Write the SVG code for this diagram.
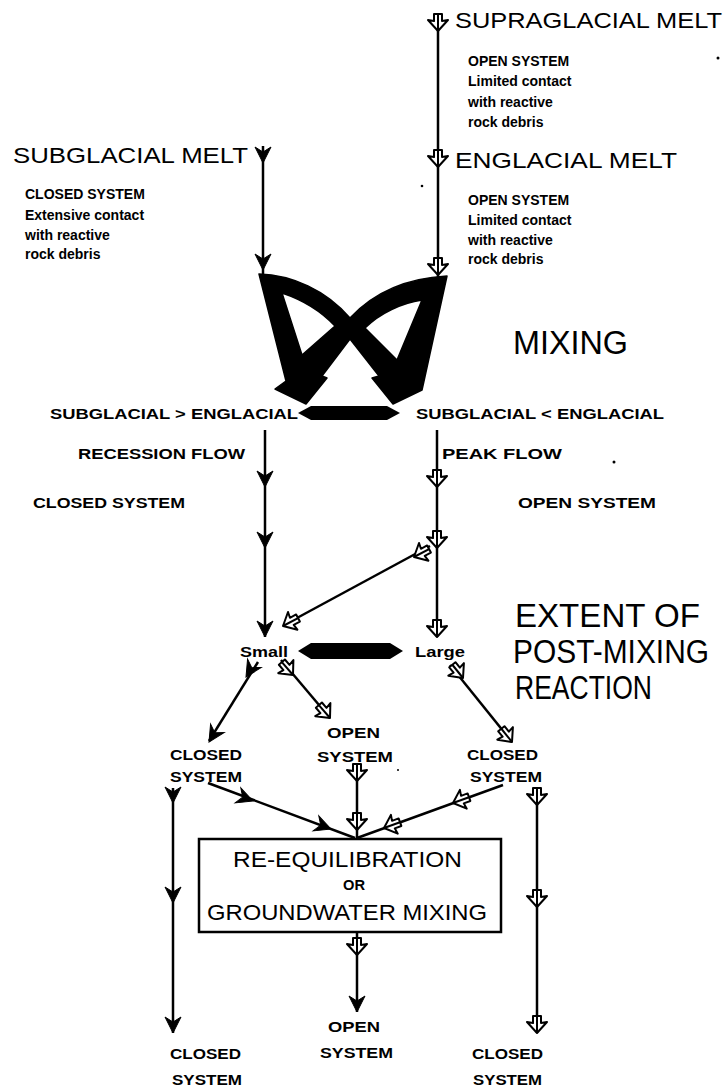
<svg xmlns="http://www.w3.org/2000/svg" xmlns:xlink="http://www.w3.org/1999/xlink" width="726" height="1090" viewBox="0 0 726 1090">
<style>
.big{font-family:"Liberation Sans",Arial,sans-serif;font-size:22px;fill:#000}
.head{font-family:"Liberation Sans",Arial,sans-serif;font-size:33px;fill:#000}
.sm{font-family:"Liberation Sans",Arial,sans-serif;font-size:14px;font-weight:bold;fill:#000}
.ln{stroke:#000;stroke-width:2.5;fill:none}
</style>
<defs>
<path id="fa" d="M0,0 L-8,-16 L0,-11 L8,-16 Z" fill="#000" stroke="#000" stroke-width="1"/>
<g id="oa">
<path d="M0,0 L-10,-11 L-4,-10 L-4,-17 L4,-17 L4,-10 L10,-11 Z" fill="#fff" stroke="#000" stroke-width="2" stroke-linejoin="round"/>
<line x1="0" y1="-17" x2="0" y2="0" stroke="#000" stroke-width="2"/>
</g>
</defs>
<rect width="726" height="1090" fill="#fff"/>

<g id="connectors">
<line class="ln" x1="438" y1="14" x2="438" y2="280"/>
<line class="ln" x1="263" y1="146" x2="263" y2="276"/>
<line class="ln" x1="265" y1="430" x2="265" y2="637"/>
<line class="ln" x1="437" y1="430" x2="437" y2="637"/>
<line class="ln" x1="430" y1="546" x2="284" y2="625"/>
<line class="ln" x1="258" y1="662" x2="209" y2="741"/>
<line class="ln" x1="281" y1="660" x2="330" y2="718"/>
<line class="ln" x1="450" y1="665" x2="512" y2="742"/>
<line class="ln" x1="208" y1="783" x2="355" y2="838"/>
<line class="ln" x1="503" y1="785" x2="357" y2="838"/>
<line class="ln" x1="357" y1="765" x2="357" y2="838"/>
<line class="ln" x1="173" y1="788" x2="173" y2="1033"/>
<line class="ln" x1="537" y1="788" x2="537" y2="1033"/>
<line class="ln" x1="357" y1="932" x2="357" y2="1012"/>
<use xlink:href="#oa" href="#oa" transform="translate(438,31)"/>
<use xlink:href="#oa" href="#oa" transform="translate(438,167)"/>
<use xlink:href="#oa" href="#oa" transform="translate(438,275)"/>
<use xlink:href="#fa" href="#fa" transform="translate(263,163)"/>
<use xlink:href="#fa" href="#fa" transform="translate(263,270)"/>
<use xlink:href="#fa" href="#fa" transform="translate(265,487)"/>
<use xlink:href="#fa" href="#fa" transform="translate(265,548)"/>
<use xlink:href="#fa" href="#fa" transform="translate(265,637)"/>
<use xlink:href="#oa" href="#oa" transform="translate(437,487)"/>
<use xlink:href="#oa" href="#oa" transform="translate(437,548)"/>
<use xlink:href="#oa" href="#oa" transform="translate(437,637)"/>
<use xlink:href="#oa" href="#oa" transform="translate(414,557) rotate(62)"/>
<use xlink:href="#oa" href="#oa" transform="translate(283,626) rotate(62)"/>
<use xlink:href="#fa" href="#fa" transform="translate(246,677) rotate(31.6)"/>
<use xlink:href="#fa" href="#fa" transform="translate(209,742) rotate(31.6)"/>
<use xlink:href="#oa" href="#oa" transform="translate(293,675) rotate(-40.8)"/>
<use xlink:href="#oa" href="#oa" transform="translate(330,718) rotate(-40.8)"/>
<use xlink:href="#oa" href="#oa" transform="translate(463,678) rotate(-38.8)"/>
<use xlink:href="#oa" href="#oa" transform="translate(512,742) rotate(-38.8)"/>
<use xlink:href="#fa" href="#fa" transform="translate(253,801) rotate(-69.5)"/>
<use xlink:href="#fa" href="#fa" transform="translate(331,829) rotate(-69.5)"/>
<use xlink:href="#oa" href="#oa" transform="translate(453,803) rotate(70)"/>
<use xlink:href="#oa" href="#oa" transform="translate(384,828) rotate(70)"/>
<use xlink:href="#oa" href="#oa" transform="translate(357,781)"/>
<use xlink:href="#oa" href="#oa" transform="translate(357,830)"/>
<use xlink:href="#fa" href="#fa" transform="translate(173,803)"/>
<use xlink:href="#fa" href="#fa" transform="translate(173,903)"/>
<use xlink:href="#fa" href="#fa" transform="translate(173,1033)"/>
<use xlink:href="#oa" href="#oa" transform="translate(537,805)"/>
<use xlink:href="#oa" href="#oa" transform="translate(537,907)"/>
<use xlink:href="#oa" href="#oa" transform="translate(537,1033)"/>
<use xlink:href="#oa" href="#oa" transform="translate(357,955)"/>
<use xlink:href="#fa" href="#fa" transform="translate(357,1012)"/>
<polygon points="298,413 311,406 387,406 400,413 387,420 311,420" fill="#000"/>
<polygon points="298,651 311,643 390,643 403,651 390,659 311,659" fill="#000"/>
</g>

<g id="mixing-shape">
<path fill="#000" fill-rule="evenodd" stroke="#000" stroke-width="1.5" stroke-linejoin="round" d="M259,274 C292,275 326,290 350,318 C375,291 410,278 447,276 L424,381 L422,390 L393,404 L372,378 L379,376 L350,339 L322,376 L327,378 L306,404 L275,389 L286,381 Z M282,293 C300,299 320,310 335,326 L302,355 Z M422,300 C402,303 380,313 365,328 L397,360 Z"/>
</g>

<g id="supraglacial">
<text class="big" x="455" y="28" textLength="267" lengthAdjust="spacingAndGlyphs">SUPRAGLACIAL MELT</text>
<text class="sm" x="468" y="66">OPEN SYSTEM</text>
<text class="sm" x="468" y="86">Limited contact</text>
<text class="sm" x="468" y="107">with reactive</text>
<text class="sm" x="468" y="127">rock debris</text>
</g>
<g id="englacial">
<text class="big" x="455" y="168" textLength="222" lengthAdjust="spacingAndGlyphs">ENGLACIAL  MELT</text>
<text class="sm" x="468" y="205">OPEN SYSTEM</text>
<text class="sm" x="468" y="225">Limited contact</text>
<text class="sm" x="468" y="245">with reactive</text>
<text class="sm" x="468" y="264">rock debris</text>
</g>
<g id="subglacial">
<text class="big" x="13" y="163" textLength="235" lengthAdjust="spacingAndGlyphs">SUBGLACIAL  MELT</text>
<text class="sm" x="25" y="199">CLOSED SYSTEM</text>
<text class="sm" x="25" y="220">Extensive contact</text>
<text class="sm" x="25" y="240">with reactive</text>
<text class="sm" x="25" y="259">rock debris</text>
</g>
<g id="mixing-label">
<text class="head" x="513" y="354" textLength="115" lengthAdjust="spacingAndGlyphs">MIXING</text>
</g>
<g id="sub-gt-eng">
<text class="sm" x="50" y="419" textLength="248" lengthAdjust="spacingAndGlyphs">SUBGLACIAL &gt; ENGLACIAL</text>
<text class="sm" x="78" y="459" textLength="167" lengthAdjust="spacingAndGlyphs">RECESSION FLOW</text>
<text class="sm" x="33" y="508" textLength="152" lengthAdjust="spacingAndGlyphs">CLOSED SYSTEM</text>
</g>
<g id="sub-lt-eng">
<text class="sm" x="416" y="419" textLength="248" lengthAdjust="spacingAndGlyphs">SUBGLACIAL &lt; ENGLACIAL</text>
<text class="sm" x="442" y="459" textLength="120" lengthAdjust="spacingAndGlyphs">PEAK FLOW</text>
<text class="sm" x="518" y="508" textLength="138" lengthAdjust="spacingAndGlyphs">OPEN SYSTEM</text>
</g>
<g id="extent-label">
<text class="head" x="515" y="627" textLength="185" lengthAdjust="spacingAndGlyphs">EXTENT OF</text>
<text class="head" x="513" y="663" font-size="30" textLength="196" lengthAdjust="spacingAndGlyphs">POST-MIXING</text>
<text class="head" x="515" y="699" textLength="137" lengthAdjust="spacingAndGlyphs">REACTION</text>
</g>
<g id="small"><text class="sm" x="240" y="657" textLength="48" lengthAdjust="spacingAndGlyphs">Small</text></g>
<g id="large"><text class="sm" x="415" y="657" textLength="50" lengthAdjust="spacingAndGlyphs">Large</text></g>
<g id="closed-left">
<text class="sm" x="170" y="760" textLength="72" lengthAdjust="spacingAndGlyphs">CLOSED</text>
<text class="sm" x="170" y="782" textLength="72" lengthAdjust="spacingAndGlyphs">SYSTEM</text>
</g>
<g id="open-mid">
<text class="sm" x="327" y="738" textLength="53" lengthAdjust="spacingAndGlyphs">OPEN</text>
<text class="sm" x="317" y="762" textLength="76" lengthAdjust="spacingAndGlyphs">SYSTEM</text>
</g>
<g id="closed-right">
<text class="sm" x="467" y="760" textLength="71" lengthAdjust="spacingAndGlyphs">CLOSED</text>
<text class="sm" x="470" y="782" textLength="72" lengthAdjust="spacingAndGlyphs">SYSTEM</text>
</g>
<g id="box">
<rect x="199" y="839" width="302" height="93" fill="#fff" stroke="#000" stroke-width="2.5"/>
<text class="big" x="233" y="867" textLength="229" lengthAdjust="spacingAndGlyphs">RE-EQUILIBRATION</text>
<text class="sm" x="343" y="890" font-size="13" textLength="22" lengthAdjust="spacingAndGlyphs">OR</text>
<text class="big" x="207" y="920" textLength="280" lengthAdjust="spacingAndGlyphs">GROUNDWATER MIXING</text>
</g>
<g id="closed-bottom-left">
<text class="sm" x="170" y="1059" textLength="71" lengthAdjust="spacingAndGlyphs">CLOSED</text>
<text class="sm" x="172" y="1085" textLength="70" lengthAdjust="spacingAndGlyphs">SYSTEM</text>
</g>
<g id="open-bottom">
<text class="sm" x="328" y="1032" textLength="52" lengthAdjust="spacingAndGlyphs">OPEN</text>
<text class="sm" x="320" y="1058" textLength="73" lengthAdjust="spacingAndGlyphs">SYSTEM</text>
</g>
<g id="closed-bottom-right">
<text class="sm" x="472" y="1059" textLength="71" lengthAdjust="spacingAndGlyphs">CLOSED</text>
<text class="sm" x="473" y="1085" textLength="69" lengthAdjust="spacingAndGlyphs">SYSTEM</text>
</g>
<g id="specks" fill="#000">
<circle cx="718" cy="58" r="1.5"/>
<circle cx="422" cy="186" r="1.3"/>
<circle cx="614" cy="462" r="1.5"/>
<circle cx="398" cy="770" r="1"/>
</g>
</svg>
